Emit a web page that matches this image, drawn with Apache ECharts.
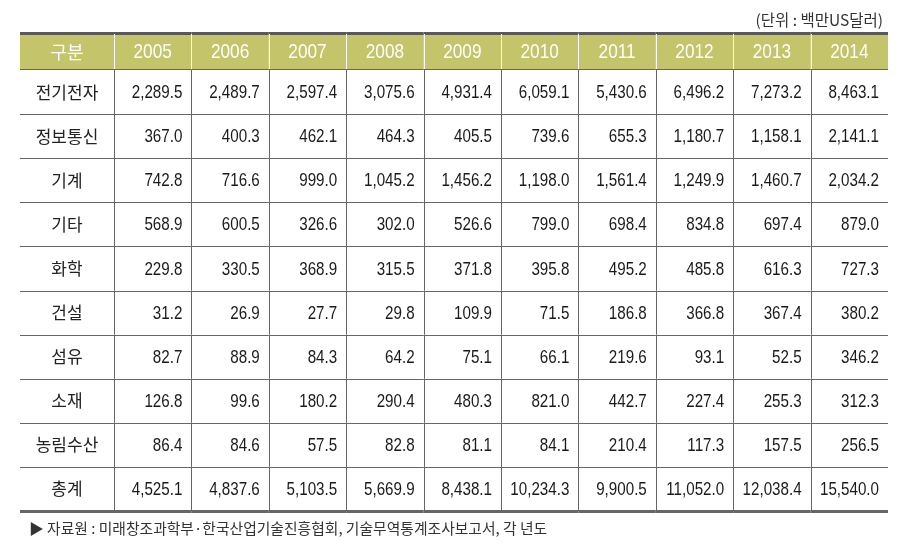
<!DOCTYPE html>
<html>
<head>
<meta charset="utf-8">
<script src="https://cdn.jsdelivr.net/npm/echarts@6/dist/echarts.min.js"></script>
<style>
  html, body { margin: 0; padding: 0; background: #fff; }
  #chart { width: 912px; height: 551px; }
</style>
</head>
<body>
<div id="chart"></div>
<script>
const years = ["2005", "2006", "2007", "2008", "2009", "2010", "2011", "2012", "2013", "2014"];
const sectors = ["전기전자", "정보통신", "기계", "기타", "화학", "건설", "섬유", "소재", "농림수산", "총계"];

const elecValues = [2289.5, 2489.7, 2597.4, 3075.6, 4931.4, 6059.1, 5430.6, 6496.2, 7273.2, 8463.1];
const infoValues = [367.0, 400.3, 462.1, 464.3, 405.5, 739.6, 655.3, 1180.7, 1158.1, 2141.1];
const machValues = [742.8, 716.6, 999.0, 1045.2, 1456.2, 1198.0, 1561.4, 1249.9, 1460.7, 2034.2];
const etcValues = [568.9, 600.5, 326.6, 302.0, 526.6, 799.0, 698.4, 834.8, 697.4, 879.0];
const chemValues = [229.8, 330.5, 368.9, 315.5, 371.8, 395.8, 495.2, 485.8, 616.3, 727.3];
const constValues = [31.2, 26.9, 27.7, 29.8, 109.9, 71.5, 186.8, 366.8, 367.4, 380.2];
const fiberValues = [82.7, 88.9, 84.3, 64.2, 75.1, 66.1, 219.6, 93.1, 52.5, 346.2];
const materialValues = [126.8, 99.6, 180.2, 290.4, 480.3, 821.0, 442.7, 227.4, 255.3, 312.3];
const agriValues = [86.4, 84.6, 57.5, 82.8, 81.1, 84.1, 210.4, 117.3, 157.5, 256.5];
const totalValues = [4525.1, 4837.6, 5103.5, 5669.9, 8438.1, 10234.3, 9900.5, 11052.0, 12038.4, 15540.0];

const rowValues = [elecValues, infoValues, machValues, etcValues, chemValues,
    constValues, fiberValues, materialValues, agriValues, totalValues];

const unitText = "(단위 : 백만US달러)";
const sourceText = "▶ 자료원 : 미래창조과학부·한국산업기술진흥협회, 기술무역통계조사보고서, 각 년도";
const cornerText = "구분";

const HEADER_BG = "#c4c46a";
const LINE = "#666666";
const NUM_FONT = '"Liberation Sans", Arial, sans-serif';
const KR_FONT = '"Noto Sans CJK KR", "Noto Sans", sans-serif';
const NARROW = 0.82; // the source uses a condensed face for numbers

const fmt = (v) => v.toLocaleString("en-US", { minimumFractionDigits: 1, maximumFractionDigits: 1 });

// cell bounds from axis scales
function cellBox(api) {
    const c = api.coord([api.value(0), api.value(1)]);
    const s = api.size([1, 1]);
    return { x0: c[0] - s[0] / 2, x1: c[0] + s[0] / 2, y0: c[1] - s[1] / 2, y1: c[1] + s[1] / 2, cx: c[0], cy: c[1] };
}

function hLine(x0, x1, y, w, color) {
    const yy = w % 2 ? Math.round(y) + 0.5 : Math.round(y);
    return { type: "line", shape: { x1: x0, y1: yy, x2: x1, y2: yy }, style: { stroke: color, lineWidth: w } };
}
function vLine(x, y0, y1, color) {
    const xx = Math.round(x) + 0.5;
    return { type: "line", shape: { x1: xx, y1: y0, x2: xx, y2: y1 }, style: { stroke: color, lineWidth: 1 } };
}
function narrowText(text, x, y, align, font, color) {
    return {
        type: "text", x: x, y: y, scaleX: NARROW,
        style: { text: text, x: 0, y: 0, align: align, verticalAlign: "middle", fill: color, font: font }
    };
}

function renderHeader(isCorner) {
    return function (params, api) {
        const b = cellBox(api);
        const children = [
            { type: "rect", shape: { x: b.x0, y: b.y0, width: b.x1 - b.x0, height: b.y1 - b.y0 }, style: { fill: HEADER_BG } },
            isCorner
                ? { type: "text", style: { text: cornerText, x: b.cx, y: b.cy + 1, align: "center", verticalAlign: "middle", fill: "#fff", font: "18px " + KR_FONT } }
                : narrowText(years[api.value(0)], b.cx, b.cy + 1, "center", "21px " + NUM_FONT, "#fff"),
            hLine(b.x0, b.x1, b.y0, 3, "#595959"),
            hLine(b.x0, b.x1, b.y1 - 1, 1, LINE)
        ];
        if (!isCorner) children.push(vLine(b.x0, b.y0 + 1, b.y1 - 1, "#ffffff"));
        return { type: "group", children: children };
    };
}

function renderBody(isLabel) {
    return function (params, api) {
        const b = cellBox(api);
        const row = api.value(1);
        const last = row === sectors.length - 1;
        const children = [];
        if (isLabel) {
            children.push({
                type: "text",
                style: { text: sectors[row], x: b.cx, y: b.cy, align: "center", verticalAlign: "middle", fill: "#222", font: "17px " + KR_FONT }
            });
        } else {
            children.push(narrowText(fmt(api.value(2)), b.x1 - 9, b.cy + 1, "right", "18.5px " + NUM_FONT, "#1a1a1a"));
            children.push(vLine(b.x0, b.y0, b.y1, LINE));
        }
        children.push(last ? hLine(b.x0, b.x1, b.y1, 3, "#666666") : hLine(b.x0, b.x1, b.y1, 1, LINE));
        return { type: "group", children: children };
    };
}

const valueData = [];
rowValues.forEach((arr, r) => arr.forEach((v, c) => valueData.push([c, r, v])));
const labelData = sectors.map((s, r) => [0, r]);

const hiddenCat = (data, gridIndex, inverse) => ({
    type: "category", data: data, gridIndex: gridIndex, inverse: !!inverse, show: false,
    axisLine: { show: false }, axisTick: { show: false }, splitLine: { show: false }
});

const chart = echarts.init(document.getElementById("chart"), null, { renderer: "canvas" });
chart.setOption({
    animation: false,
    title: [
        { text: unitText, right: 24, top: 7, textStyle: { fontFamily: KR_FONT, fontSize: 15.5, fontWeight: "normal", color: "#333" } },
        { text: sourceText, left: 24, top: 516, textStyle: { fontFamily: KR_FONT, fontSize: 14.8, fontWeight: "normal", color: "#333" } }
    ],
    grid: [
        { left: 20, top: 33, width: 94, height: 37 },
        { left: 114, top: 33, width: 774, height: 37 },
        { left: 20, top: 70, width: 94, height: 441 },
        { left: 114, top: 70, width: 774, height: 441 }
    ],
    xAxis: [
        hiddenCat([cornerText], 0),
        hiddenCat(years, 1),
        hiddenCat([cornerText], 2),
        hiddenCat(years, 3)
    ],
    yAxis: [
        hiddenCat(["h"], 0),
        hiddenCat(["h"], 1),
        hiddenCat(sectors, 2, true),
        hiddenCat(sectors, 3, true)
    ],
    series: [
        { type: "custom", xAxisIndex: 0, yAxisIndex: 0, data: [[0, 0]], renderItem: renderHeader(true) },
        { type: "custom", xAxisIndex: 1, yAxisIndex: 1, data: years.map((y, i) => [i, 0]), renderItem: renderHeader(false) },
        { type: "custom", xAxisIndex: 2, yAxisIndex: 2, data: labelData, renderItem: renderBody(true) },
        { type: "custom", xAxisIndex: 3, yAxisIndex: 3, data: valueData, renderItem: renderBody(false) }
    ]
});
</script>
</body>
</html>
